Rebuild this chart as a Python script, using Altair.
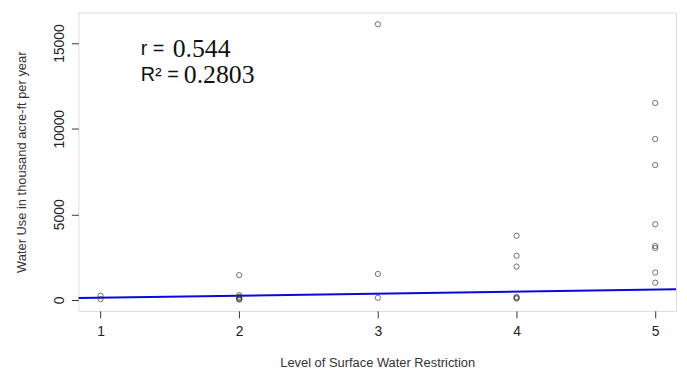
import altair as alt
import pandas as pd

# Scatter data: level of restriction vs. water use (thousand acre-ft / year)
level = [1, 1,
         2, 2, 2, 2, 2, 2,
         3, 3, 3,
         4, 4, 4, 4, 4, 4,
         5, 5, 5, 5, 5, 5, 5, 5]
water_use = [50, 250,
             1450, 280, 180, 110, 60, 20,
             16100, 1520, 130,
             3750, 2580, 1950, 180, 120, 80,
             11500, 9400, 7880, 4420, 3150, 3030, 1600, 1010]

# Fitted line as drawn (endpoints at the plot edges)
fit_x = [0.84, 5.15]
fit_y = [115, 620]

# Annotation pieces
ann_sans_text = ["r =", "R\u00b2 ="]
ann_sans_x = [1.29, 1.29]
ann_num_text = ["0.544", "0.2803"]
ann_num_x = [1.52, 1.6]
ann_y = [14650, 13150]

pts = pd.DataFrame({"level": level, "use": water_use})
fit = pd.DataFrame({"level": fit_x, "use": fit_y})
ann_s = pd.DataFrame({"x": ann_sans_x, "y": ann_y, "t": ann_sans_text})
ann_n = pd.DataFrame({"x": ann_num_x, "y": ann_y, "t": ann_num_text})

xscale = alt.Scale(domain=[0.84, 5.15], nice=False, zero=False)
yscale = alt.Scale(domain=[-640, 16780], nice=False, zero=False)

font = "Liberation Sans"

xaxis = alt.Axis(values=[1, 2, 3, 4, 5], format="d", title="Level of Surface Water Restriction",
                 domain=False, grid=False, tickSize=7, tickColor="#333",
                 labelFont=font, labelFontSize=14, labelColor="#222", labelPadding=7,
                 titleFont=font, titleFontSize=13, titleFontWeight="normal", titleColor="#333",
                 titleY=52, titleBaseline="middle")
yaxis = alt.Axis(values=[0, 5000, 10000, 15000], format="d",
                 title="Water Use in thousand acre-ft per year",
                 domain=False, grid=False, tickSize=7, tickColor="#333",
                 labelFont=font, labelFontSize=14, labelColor="#222", labelPadding=5,
                 labelAngle=270, labelAlign="center", labelBaseline="bottom",
                 titleFont=font, titleFontSize=13, titleFontWeight="normal", titleColor="#333",
                 titleX=-57, titleBaseline="middle")

points = alt.Chart(pts).mark_point(shape="circle", filled=False, size=28,
                                   strokeWidth=1, color="#333").encode(
    x=alt.X("level:Q", scale=xscale, axis=xaxis),
    y=alt.Y("use:Q", scale=yscale, axis=yaxis),
)

line = alt.Chart(fit).mark_line(color="#0a0ad8", strokeWidth=2, clip=True).encode(
    x=alt.X("level:Q", scale=xscale),
    y=alt.Y("use:Q", scale=yscale),
)

t1 = alt.Chart(ann_s).mark_text(align="left", baseline="middle", font="Liberation Sans",
                                fontSize=20, color="#111").encode(
    x=alt.X("x:Q", scale=xscale), y=alt.Y("y:Q", scale=yscale), text="t:N")
t2 = alt.Chart(ann_n).mark_text(align="left", baseline="middle", font="Liberation Serif",
                                fontSize=26, color="#111").encode(
    x=alt.X("x:Q", scale=xscale), y=alt.Y("y:Q", scale=yscale), text="t:N")

chart = alt.layer(line, points, t1, t2).properties(
    width=603, height=301,
    autosize=alt.AutoSizeParams(type="none"),
    padding={"left": 71, "top": 3, "right": 3, "bottom": 60},
).configure_view(stroke="#222", strokeWidth=1.2).configure(background="white")

chart.save("out.html", embed_options={"renderer": "svg", "actions": False})
